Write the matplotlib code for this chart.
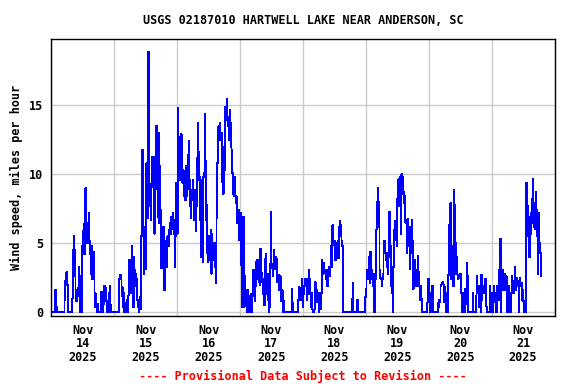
import pandas as pd
import matplotlib
matplotlib.use("Agg")
import matplotlib.pyplot as plt
import matplotlib.dates as mdates

# wind speed in mph, one reading every 15 minutes, one list per day
nov14 = [0, 0, 0, 0, 0, 0, 1.6, 0.8, 0.4, 0, 0, 0, 0, 0, 0, 0, 0, 0, 0, 0,
         0.9, 2.3, 2.3, 2.9, 2.0, 1.4, 0, 0, 0, 0, 0, 0,
         1.0, 4.5, 5.5, 4.5, 2.6, 1.4, 0.8, 1.6, 1.2, 1.8, 3.3, 2.6, 0, 0, 0,
         4.8, 5.9, 6.4, 4.2, 5.5, 9.0, 6.5, 5.0, 6.2, 5.0, 7.2, 5.2, 4.2, 2.8, 4.8, 2.4, 3.5, 4.4, 2.6, 1.4,
         0.4, 1.3, 0.6, 0, 0.6, 0, 0, 0, 0.8, 1.5, 0, 0, 0.6, 0.8, 1.9, 1.8, 1.4, 0.8, 0, 0, 0, 1.4, 1.9, 0.5, 0,
         0, 0, 0, 0]
nov15 = [0, 0, 0, 0, 0, 0, 0,
         2.4, 2.7, 2.7, 2.4, 1.2, 1.8, 0.4, 1.4,
         0, 0.7, 0, 0.7, 0.9, 0, 1.2, 1.9,
         3.8, 3.1, 2.8, 1.4, 4.8, 0.7, 0.4, 4.0,
         3.1, 2.8, 1.9, 2.4, 0.9, 0.4, 0, 0.6,
         1.1, 0.2, 5.5, 6.4, 11.8, 6.2, 2.8, 6.2,
         4.0, 3.1, 10.8, 6.8, 14.9, 18.9, 9.3, 7.7,
         9.1, 6.7, 9.1, 11.3, 10.6, 7.7, 5.7, 11.3,
         10.3, 13.5, 8.9, 6.9, 13.0, 6.5, 10.6, 7.4,
         3.5, 3.2, 3.5, 4.0, 6.2, 1.6, 4.0, 5.2,
         5.0, 3.3, 5.5, 4.8, 5.2, 6.0, 6.5, 5.7,
         6.9, 6.0, 7.2, 6.7, 5.7]
nov16 = [3.3, 5.5, 9.4, 7.0, 5.7, 14.8, 10.8, 12.7, 9.6, 10.8, 12.9, 12.3,
         9.4, 10.3, 8.4, 9.6, 8.1, 10.6, 8.4, 8.9, 11.4, 9.6, 12.4, 9.6,
         7.7, 6.8, 8.9, 8.1, 9.6, 6.7, 8.9, 8.1, 5.9, 7.7, 11.2, 13.7,
         11.6, 9.6, 9.8, 6.7, 9.6, 4.0, 8.9, 3.6, 9.8, 10.1, 14.4, 11.0,
         6.7, 7.8, 4.3, 3.6, 5.5, 3.8, 5.2, 6.0, 2.8, 5.7, 3.8, 5.0,
         4.7, 3.3, 5.0, 2.1, 6.8, 10.8, 12.5, 13.5, 12.7, 13.7, 12.5, 13.0,
         10.6, 9.4, 8.6, 12.0, 10.3, 14.9, 13.9, 14.4, 15.5, 13.5, 14.2, 12.5,
         14.7, 13.7, 12.0, 11.8, 10.1, 8.6, 8.4, 8.6, 9.8, 7.9, 8.4, 6.5]
nov17 = [7.4, 6.5, 7.4, 5.2, 7.2, 3.6, 3.4, 0.4,
         2.8, 6.9, 0.4, 2.6, 0.6, 1.6, 0, 1.6,
         0.9, 1.2, 0, 0.4, 1.3, 0, 0, 2.9,
         3.1, 1.2, 0.8, 2.0, 1.9, 3.7, 3.8, 2.4,
         3.6, 2.2, 2.0, 4.6, 2.9, 2.2, 2.4, 1.3,
         2.0, 0.5, 3.9, 4.2, 2.4, 1.3, 0.9, 2.8,
         0, 0.4, 3.5, 7.3, 3.2, 3.5, 2.6, 4.5,
         3.1, 3.5, 4.0, 3.9, 2.2, 2.6, 2.7, 2.4,
         1.6, 2.6, 1.5, 0.8, 1.6, 0, 0.8, 0,
         0, 0, 0, 0, 0, 0, 0, 0,
         0, 0, 0, 1.7, 0.7, 0, 0, 0,
         0, 0, 0, 0, 0, 0.9, 1.8, 1.7]
nov18 = [1.7, 0.9, 2.4, 1.4, 0.4, 1.3, 1.9, 2.4,
         2.1, 2.4, 0.9, 1.9, 1.3, 3.1, 2.4, 1.4,
         0.4, 1.4, 0.2, 0, 0, 0.2, 2.2, 2.1,
         1.4, 1.6, 0.7, 1.4, 0, 0.7, 0.2, 0.7,
         1.4, 3.8, 2.8, 3.6, 3.3, 3.1, 2.8, 2.4,
         3.1, 1.9, 2.8, 3.1, 3.3, 2.6, 4.8, 3.3,
         4.3, 6.3, 5.2, 4.9, 5.2, 3.8, 5.0, 4.3,
         4.5, 5.2, 3.9, 6.2, 6.6, 5.5, 6.3, 5.2,
         4.8, 0, 0, 0, 0, 0, 0, 0,
         0, 0, 0, 0, 0, 0, 0, 1.0,
         2.1, 0, 0, 0, 0, 0, 0, 0.9,
         0, 0, 0, 0, 0, 0, 0, 0]
nov19 = [0, 0, 0, 1.1, 1.7, 3.1, 2.4, 2.9,
         4.0, 3.1, 2.1, 4.4, 2.8, 3.1, 2.4, 1.9,
         2.8, 0, 2.4, 3.3, 6.0, 8.0, 9.0, 8.0,
         6.2, 3.1, 2.5, 2.4, 1.9, 2.4, 2.8, 4.3,
         5.2, 4.4, 3.8, 4.3, 3.3, 2.8, 4.0, 6.2,
         7.3, 4.8, 2.7, 1.9, 1.4, 0, 3.3, 6.0,
         6.6, 6.2, 5.2, 4.8, 8.2, 9.6, 9.7, 7.7,
         9.8, 5.7, 10.0, 8.6, 9.8, 8.7, 7.9, 8.4,
         6.5, 6.7, 4.3, 5.7, 6.8, 4.8, 6.2, 3.1,
         4.3, 5.0, 6.7, 5.2, 1.7, 3.1, 3.8, 2.6,
         3.1, 1.9, 2.8, 4.1, 2.9, 1.9, 0.9, 1.4,
         1.9, 1.0, 0, 0, 0, 0, 0, 0]
nov20 = [0, 0, 0.7, 2.4, 2.1, 1.4, 0, 0.9,
         0, 1.9, 1.4, 0, 0, 0, 0, 0,
         0, 0, 0.7, 0.4, 0.9, 0.7, 1.9, 2.0,
         2.1, 2.2, 2.0, 0.7, 1.8, 1.4, 0, 0.7,
         0, 0, 2.7, 6.3, 4.4, 7.9, 2.4, 4.8,
         4.3, 1.9, 8.9, 7.8, 2.8, 5.0, 4.0, 2.8,
         2.4, 2.7, 2.6, 2.5, 2.8, 1.4, 0, 1.4,
         0, 0, 0, 1.4, 1.7, 0.6, 3.6, 2.6,
         0, 0, 0, 0, 0, 0, 0, 1.4,
         0, 0, 0, 0, 1.2, 2.6, 1.4, 1.9,
         0.4, 1.9, 0.9, 0, 2.7, 0.9, 1.4, 1.9,
         1.4, 1.4, 2.4, 2.0, 0.4, 0, 0, 0]
nov21 = [0, 1.9, 0.7, 0, 1.4, 0, 0, 1.9,
         0.7, 1.4, 0, 0, 1.9, 1.8, 0.9, 3.1,
         2.6, 5.3, 0, 2.6, 1.6, 3.1, 2.1, 2.8,
         2.1, 1.6, 2.6, 1.4, 0, 1.9, 1.1, 0.2,
         0, 0.7, 1.4, 2.6, 2.1, 1.4, 2.3, 3.3,
         1.6, 2.1, 2.5, 1.9, 2.3, 0, 2.1, 2.5,
         1.9, 2.1, 0.9, 1.6, 0.8, 0, 0.8, 0,
         7.7, 9.4, 7.7, 6.0, 5.5, 4.0, 6.9, 5.7,
         7.2, 6.5, 8.2, 9.7, 6.2, 7.9, 6.0, 8.7,
         7.4, 5.5, 2.8, 6.2, 7.2, 5.0, 4.3, 3.4,
         2.6]

start = "2025-11-14 00:00"
end = "2025-11-22 00:00"
yticks = [0, 5, 10, 15]
title = "USGS 02187010 HARTWELL LAKE NEAR ANDERSON, SC"
ylabel = "Wind speed, miles per hour"
note = "---- Provisional Data Subject to Revision ----"

speed = nov14 + nov15 + nov16 + nov17 + nov18 + nov19 + nov20 + nov21
times = pd.date_range(start, periods=len(speed), freq="15min")

plt.rcParams["font.family"] = "DejaVu Sans Mono"
plt.rcParams["font.weight"] = "bold"
plt.rcParams["font.size"] = 8.5

fig = plt.figure(figsize=(5.76, 3.84), dpi=100)
ax = fig.add_axes([0.0891, 0.178, 0.8736, 0.7198])
ax.plot(times, speed, color="#0000ff", lw=0.6, drawstyle="steps-post",
        antialiased=False)

ax.set_xlim(pd.Timestamp(start), pd.Timestamp(end))
ax.set_ylim(-0.25, 19.8)
ax.set_yticks(yticks)

# grid at midnight, date labels at noon
ax.xaxis.set_major_locator(mdates.DayLocator())
ax.xaxis.set_major_formatter(plt.NullFormatter())
ax.xaxis.set_minor_locator(mdates.HourLocator(byhour=12))
ax.xaxis.set_minor_formatter(mdates.DateFormatter("%b\n%d\n%Y"))
ax.tick_params(which="both", length=0)
ax.tick_params(axis="x", which="minor", pad=6)
ax.tick_params(axis="y", pad=6)
ax.grid(True, which="major", color="#cccccc", lw=1)
ax.set_axisbelow(True)
for s in ax.spines.values():
    s.set_linewidth(1.0)

fig.canvas.draw()
for lbl in ax.get_xticklabels(minor=True):
    lbl.set_linespacing(1.05)

fig.text(303 / 576, 1 - 20 / 384, title, ha="center", va="center")
fig.text(16 / 576, 1 - 177 / 384, ylabel, rotation=90, ha="center", va="center")
fig.text(303 / 576, 1 - 376 / 384, note, ha="center", va="center", color="red")

fig.savefig("out.png", dpi=100)
